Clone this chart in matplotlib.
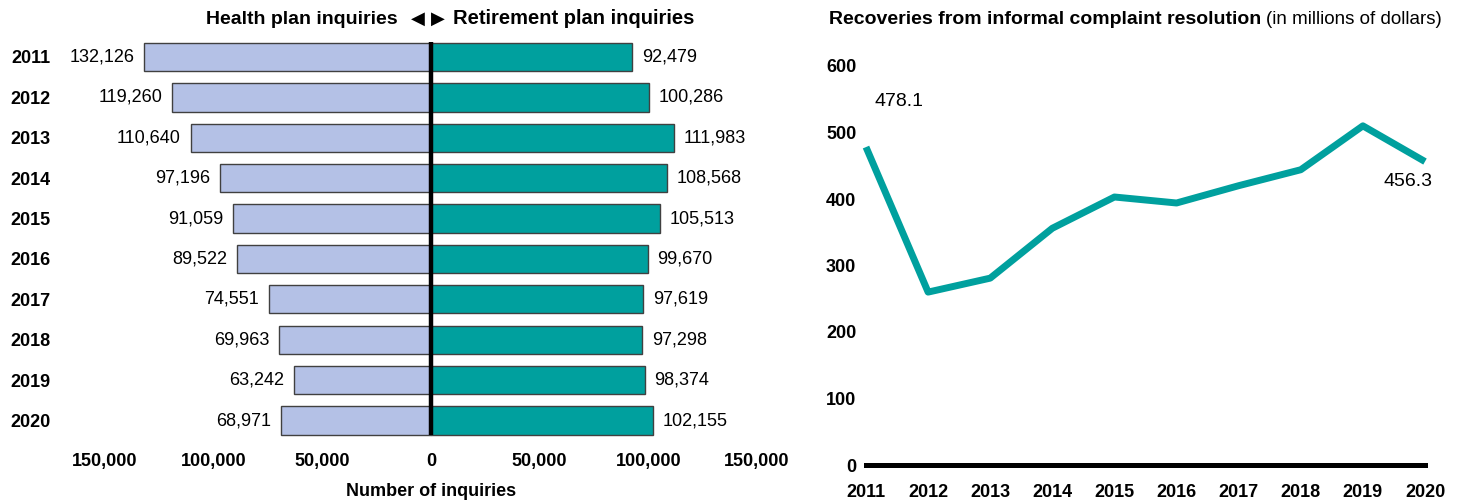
import numpy as np
import matplotlib.pyplot as plt
plt.switch_backend('agg')

plt.rcParams['font.family'] = ['Liberation Sans', 'DejaVu Sans']

## data
years = [2011, 2012, 2013, 2014, 2015, 2016, 2017, 2018, 2019, 2020]
health = [132126, 119260, 110640, 97196, 91059, 89522, 74551, 69963, 63242, 68971]
retire = [92479, 100286, 111983, 108568, 105513, 99670, 97619, 97298, 98374, 102155]
recoveries = [478.1, 260, 281, 356, 403, 394, 420, 444, 510, 456.3]
xticks_left = [-150000, -100000, -50000, 0, 50000, 100000, 150000]
yticks_right = [0, 100, 200, 300, 400, 500, 600]

W, H = 1462, 504
fig = plt.figure(figsize=(W/100, H/100), dpi=100)

def box(l, t, r, b):
    # pixel box -> figure fraction
    return [l/W, 1-b/H, (r-l)/W, (b-t)/H]

light = '#B4C1E6'
teal = '#00A09E'

### left: back-to-back bars
ax = fig.add_axes(box(66, 36.8, 796, 440.7))
ypos = np.arange(len(years))
ax.barh(ypos, [-v for v in health], height=0.7, color=light, edgecolor='#404040', linewidth=1)
ax.barh(ypos, retire, height=0.7, color=teal, edgecolor='#404040', linewidth=1)
ax.plot([0, 0], [-0.37, 9.37], color='black', lw=3.2, solid_capstyle='butt')
for i in range(len(years)):
    ax.annotate('{:,}'.format(health[i]), (-health[i], i), xytext=(-7, 0), textcoords='offset points',
                ha='right', va='center', fontsize=13)
    ax.annotate('{:,}'.format(retire[i]), (retire[i], i), xytext=(7, 0), textcoords='offset points',
                ha='left', va='center', fontsize=13)
ax.set_xlim(-168000, 168000)
ax.set_ylim(9.5, -0.5)
ax.set_xticks(xticks_left)
ax.set_xticklabels(['{:,}'.format(abs(v)) for v in xticks_left], fontsize=13, fontweight='bold')
ax.set_yticks(ypos)
ax.set_yticklabels([str(y) for y in years], fontsize=13, fontweight='bold')
ax.tick_params(axis='x', length=0, pad=9)
ax.tick_params(axis='y', length=0, pad=11)
for s in ax.spines.values():
    s.set_visible(False)

fig.text(398/W, 1-19/H, 'Health plan inquiries', ha='right', va='center', fontsize=14, fontweight='bold')
fig.text(418/W, 1-19/H, '\u25C0', ha='center', va='center', fontsize=13, family=['DejaVu Sans'])
fig.text(438/W, 1-19/H, '\u25B6', ha='center', va='center', fontsize=13, family=['DejaVu Sans'])
fig.text(453/W, 1-19/H, 'Retirement plan inquiries', ha='left', va='center', fontsize=14.5, fontweight='bold')
fig.text(431/W, 1-492/H, 'Number of inquiries', ha='center', va='center', fontsize=13, fontweight='bold')

### right: line chart
ax2 = fig.add_axes(box(866, 66, 1425, 465))
ax2.plot(years, recoveries, color=teal, lw=5, clip_on=False, solid_capstyle='butt')
ax2.set_xlim(2011, 2020)
ax2.set_ylim(0, 600)
ax2.set_xticks(years)
ax2.set_xticklabels([str(y) for y in years], fontsize=13, fontweight='bold')
ax2.set_yticks(yticks_right)
ax2.set_yticklabels([str(v) for v in yticks_right], fontsize=13, fontweight='bold')
ax2.tick_params(axis='x', length=0, pad=14)
ax2.tick_params(axis='y', length=0, pad=7)
for s in ['top', 'right', 'left']:
    ax2.spines[s].set_visible(False)
ax2.spines['bottom'].set_linewidth(3.6)
ax2.spines['bottom'].set_color('black')
ax2.annotate('478.1', (years[0], recoveries[0]), xytext=(6, 33), textcoords='offset points',
             ha='left', va='center', fontsize=14)
ax2.annotate('456.3', (years[-1], recoveries[-1]), xytext=(-12, -14), textcoords='offset points',
             ha='center', va='center', fontsize=14)

t1 = fig.text(829/W, 1-19/H, 'Recoveries from informal complaint resolution', ha='left', va='center',
              fontsize=14, fontweight='bold')
fig.canvas.draw()
bb = t1.get_window_extent()
fig.text((bb.x1 + 5)/W, 1-19/H, '(in millions of dollars)', ha='left', va='center', fontsize=13.5)

plt.savefig('out.png', dpi=100)
